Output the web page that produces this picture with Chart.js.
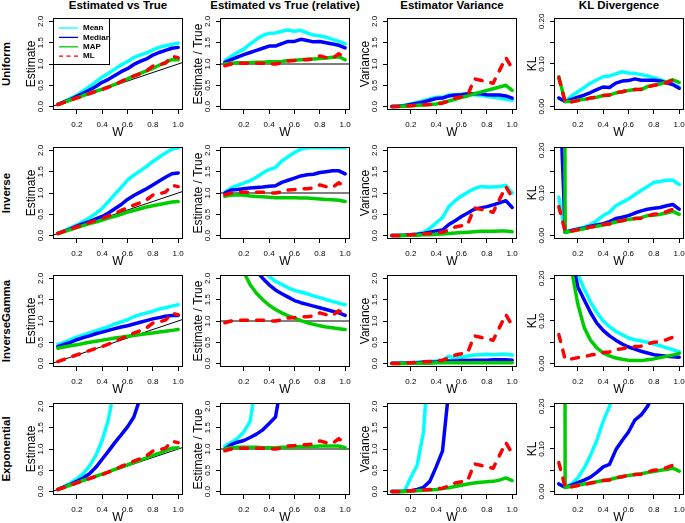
<!DOCTYPE html>
<html><head><meta charset="utf-8">
<script src="https://cdn.jsdelivr.net/npm/chart.js@4"></script>
<style>
body{margin:0;background:#fff;}
#wrap{position:relative;width:685px;height:523px;overflow:hidden;background:#fff;font-family:"Liberation Sans",Arial,sans-serif;color:#000;}
#wrap canvas{position:absolute;}
.ct{position:absolute;top:-1px;font-weight:bold;font-size:11.5px;line-height:12px;text-align:center;width:200px;white-space:nowrap;}
.rt{position:absolute;font-weight:bold;font-size:11.5px;line-height:12px;white-space:nowrap;transform:translate(-50%,-50%) rotate(-90deg);}
</style></head><body><div id="wrap"></div>
<script>
// ---------- data ----------
const W = [0.05,0.10,0.15,0.20,0.25,0.30,0.35,0.40,0.45,0.50,0.55,0.60,0.65,0.70,0.75,0.80,0.85,0.90,0.95,1.00];
const seriesNames = ['Mean','Median','MAP','ML'];
const colTitles = ['Estimated vs True','Estimated vs True (relative)','Estimator Variance','KL Divergence'];
const rowTitles = ['Uniform','Inverse','InverseGamma','Exponential'];
const yTitles = ['Estimate','Estimate / True','Variance','KL'];
const xTickValues = [0.2,0.4,0.6,0.8,1.0];
const xTickLabels = ['0.2','0.4','0.6','0.8','1.0'];
const yTickValues = [0,0.5,1,1.5,2];
const yTickLabels = ['0.0','0.5','1.0','1.5','2.0'];
const klTickValues = [0,0.05,0.10,0.15,0.20];
const klTickLabels = ['0.00','','0.10','','0.20'];

// reference lines (true value)
const refEstX = [0, 1.1], refEstY = [0, 1.1];
const refRelX = [0, 1.1], refRelY = [1, 1];

// ML (same in every row)
const mlEst = [0.048,0.10,0.153,0.204,0.255,0.306,0.357,0.40,0.455,0.515,0.59,0.65,0.715,0.77,0.84,0.95,0.98,1.02,1.18,1.15];
const mlRel = [0.96,1.0,1.02,1.02,1.02,1.02,1.02,1.0,1.0,1.03,1.07,1.08,1.1,1.1,1.12,1.19,1.15,1.13,1.24,1.15];
const mlVar = [0,0,0.01,0.02,0.03,0.04,0.05,0.06,0.08,0.13,0.2,0.23,0.27,0.65,0.62,0.58,0.55,0.85,1.15,0.9];
const mlKL  = [0.068,0.01,0.011,0.014,0.016,0.02,0.022,0.026,0.027,0.033,0.035,0.038,0.04,0.041,0.046,0.05,0.052,0.056,0.062,0.055];

// Uniform
const uniEstMean   = [0.05,0.12,0.19,0.27,0.37,0.47,0.58,0.69,0.78,0.88,0.98,1.06,1.15,1.21,1.26,1.33,1.39,1.43,1.46,1.49];
const uniEstMedian = [0.05,0.11,0.17,0.24,0.31,0.39,0.47,0.57,0.64,0.73,0.82,0.89,0.99,1.06,1.12,1.21,1.27,1.32,1.37,1.39];
const uniEstMAP    = [0.05,0.10,0.155,0.205,0.26,0.31,0.36,0.41,0.465,0.52,0.58,0.65,0.72,0.78,0.84,0.9,0.97,1.04,1.1,1.1];
const uniRelMean   = [1.08,1.18,1.27,1.35,1.47,1.58,1.67,1.72,1.73,1.77,1.80,1.77,1.79,1.73,1.68,1.66,1.63,1.58,1.53,1.48];
const uniRelMedian = [1.04,1.10,1.16,1.22,1.27,1.32,1.37,1.42,1.42,1.48,1.53,1.53,1.58,1.55,1.52,1.53,1.50,1.47,1.44,1.38];
const uniRelMAP    = [1.0,1.02,1.03,1.03,1.03,1.04,1.04,1.05,1.05,1.06,1.08,1.09,1.1,1.11,1.12,1.13,1.14,1.16,1.17,1.1];
const uniVarMean   = [0,0.01,0.03,0.06,0.1,0.14,0.18,0.22,0.22,0.27,0.28,0.29,0.3,0.28,0.26,0.24,0.22,0.2,0.17,0.15];
const uniVarMedian = [0,0.01,0.02,0.05,0.08,0.11,0.15,0.19,0.2,0.25,0.27,0.28,0.3,0.3,0.3,0.28,0.27,0.27,0.25,0.2];
const uniVarMAP    = [0,0,0.01,0.02,0.03,0.04,0.05,0.06,0.1,0.13,0.17,0.22,0.25,0.3,0.34,0.38,0.42,0.46,0.5,0.38];
const uniKLMean    = [0.02,0.012,0.025,0.035,0.045,0.055,0.063,0.07,0.072,0.077,0.082,0.079,0.078,0.075,0.072,0.068,0.063,0.058,0.052,0.045];
const uniKLMedian  = [0.02,0.012,0.017,0.022,0.027,0.033,0.04,0.046,0.045,0.055,0.06,0.061,0.065,0.062,0.062,0.062,0.06,0.056,0.052,0.043];
const uniKLMAP     = [0.07,0.012,0.012,0.015,0.017,0.02,0.022,0.026,0.027,0.032,0.035,0.038,0.04,0.04,0.047,0.05,0.053,0.058,0.063,0.057];

// Inverse
const invEstMean   = [0.05,0.11,0.18,0.25,0.33,0.42,0.52,0.64,0.8,0.97,1.13,1.3,1.42,1.52,1.62,1.74,1.84,1.94,2.03,2.06];
const invEstMedian = [0.05,0.105,0.16,0.22,0.28,0.33,0.39,0.45,0.53,0.63,0.73,0.85,0.94,1.02,1.1,1.19,1.28,1.37,1.45,1.47];
const invEstMAP    = [0.045,0.095,0.14,0.19,0.235,0.28,0.32,0.365,0.41,0.45,0.5,0.55,0.59,0.63,0.67,0.7,0.73,0.76,0.79,0.8];
const invRelMean   = [1.02,1.12,1.18,1.23,1.29,1.37,1.47,1.55,1.6,1.75,1.85,1.95,2.03,2.06,2.07,2.07,2.06,2.07,2.07,2.06];
const invRelMedian = [1.0,1.07,1.08,1.1,1.12,1.13,1.14,1.16,1.17,1.25,1.3,1.35,1.4,1.43,1.44,1.48,1.5,1.52,1.52,1.45];
const invRelMAP    = [0.92,0.95,0.96,0.95,0.93,0.92,0.91,0.9,0.89,0.89,0.89,0.89,0.88,0.88,0.87,0.86,0.85,0.84,0.83,0.8];
const invVarMean   = [0,0,0.01,0.02,0.04,0.08,0.17,0.3,0.42,0.68,0.82,0.93,1.02,1.1,1.15,1.14,1.14,1.15,1.18,1.0];
const invVarMedian = [0,0,0.01,0.02,0.03,0.05,0.08,0.11,0.13,0.26,0.35,0.45,0.53,0.62,0.65,0.68,0.72,0.77,0.82,0.66];
const invVarMAP    = [0,0,0,0.01,0.01,0.02,0.02,0.03,0.04,0.05,0.06,0.07,0.08,0.09,0.1,0.1,0.1,0.11,0.11,0.09];
const invKLMean    = [0.09,0.008,0.012,0.016,0.02,0.026,0.035,0.047,0.055,0.07,0.078,0.086,0.096,0.106,0.115,0.125,0.127,0.13,0.13,0.12];
const invKLMedian  = [0.4,0.008,0.012,0.015,0.018,0.022,0.025,0.028,0.033,0.04,0.043,0.047,0.053,0.058,0.062,0.064,0.066,0.07,0.073,0.062];
const invKLMAP     = [5,0.008,0.01,0.013,0.016,0.02,0.022,0.025,0.028,0.032,0.035,0.038,0.04,0.042,0.047,0.048,0.05,0.053,0.057,0.05];

// InverseGamma
const igEstMean    = [0.45,0.5,0.56,0.62,0.67,0.72,0.77,0.82,0.87,0.93,0.98,1.03,1.1,1.15,1.19,1.23,1.28,1.31,1.35,1.38];
const igEstMedian  = [0.4,0.45,0.5,0.56,0.61,0.65,0.7,0.74,0.78,0.82,0.86,0.89,0.93,0.97,1.01,1.05,1.08,1.11,1.13,1.13];
const igEstMAP     = [0.36,0.39,0.42,0.44,0.47,0.5,0.525,0.55,0.575,0.6,0.62,0.64,0.66,0.68,0.7,0.72,0.74,0.76,0.78,0.8];
const igRelMean    = [9,5,3.7,3.1,2.68,2.4,2.2,2.05,1.93,1.86,1.78,1.72,1.68,1.64,1.59,1.55,1.5,1.46,1.42,1.38];
const igRelMedian  = [8,4.5,3.33,2.8,2.44,2.17,2.0,1.85,1.73,1.64,1.56,1.48,1.43,1.39,1.35,1.31,1.27,1.23,1.19,1.13];
const igRelMAP     = [7,3.8,2.8,2.15,1.85,1.65,1.5,1.37,1.27,1.19,1.12,1.07,1.01,0.96,0.92,0.89,0.86,0.84,0.82,0.8];
const igVarMean    = [0.01,0.01,0.02,0.02,0.03,0.04,0.05,0.06,0.08,0.17,0.13,0.15,0.18,0.2,0.21,0.22,0.21,0.22,0.22,0.2];
const igVarMedian  = [0.01,0.01,0.01,0.02,0.02,0.03,0.03,0.04,0.05,0.06,0.06,0.07,0.07,0.08,0.08,0.08,0.09,0.09,0.09,0.08];
const igVarMAP     = [0,0,0,0.01,0.01,0.01,0.01,0.02,0.02,0.02,0.02,0.02,0.02,0.02,0.02,0.02,0.02,0.02,0.02,0.02];
const igKLMean     = [1.5,0.8,0.4,0.21,0.175,0.145,0.12,0.1,0.087,0.076,0.068,0.06,0.056,0.053,0.05,0.046,0.042,0.037,0.033,0.028];
const igKLMedian   = [1.2,0.6,0.25,0.18,0.15,0.12,0.095,0.078,0.065,0.055,0.046,0.039,0.034,0.029,0.025,0.021,0.019,0.017,0.016,0.015];
const igKLMAP      = [2,0.6,0.22,0.14,0.085,0.055,0.037,0.025,0.018,0.013,0.01,0.008,0.007,0.007,0.009,0.011,0.014,0.017,0.02,0.024];

// Exponential
const expEstMean   = [0.05,0.12,0.2,0.3,0.42,0.6,0.85,1.2,1.7,2.5,3.5,4.5,5.5,6.5,7.5,8.5,9.5,10.5,11.5,12.5];
const expEstMedian = [0.05,0.11,0.17,0.24,0.32,0.42,0.57,0.76,0.95,1.15,1.33,1.52,1.75,2.2,3,4,5,6,7,8];
const expEstMAP    = [0.05,0.1,0.155,0.21,0.26,0.31,0.36,0.41,0.465,0.52,0.57,0.63,0.68,0.74,0.79,0.85,0.9,0.96,1.02,1.03];
const expRelMean   = [1.07,1.15,1.25,1.4,1.65,2.6,3.5,4.5,5.5,6.5,7.5,8.5,9.5,10.5,11.5,12.5,13.5,14.5,15.5,16.5];
const expRelMedian = [1.0,1.1,1.16,1.2,1.27,1.35,1.45,1.6,1.75,2.6,3.5,4.5,5.5,6.5,7.5,8.5,9.5,10.5,11.5,12.5];
const expRelMAP    = [1.0,1.03,1.04,1.04,1.04,1.04,1.03,1.03,1.03,1.04,1.04,1.05,1.05,1.06,1.06,1.07,1.07,1.07,1.07,1.03];
const expVarMean   = [0,0,0.01,0.33,0.62,1.4,3.5,6,9,12,15,18,21,24,27,30,33,36,39,42];
const expVarMedian = [0,0,0.01,0.02,0.05,0.1,0.24,0.58,0.95,2.4,5,8,11,14,17,20,23,26,29,32];
const expVarMAP    = [0,0,0,0.01,0.02,0.03,0.04,0.05,0.07,0.09,0.12,0.15,0.18,0.2,0.22,0.23,0.24,0.27,0.32,0.26];
const expKLMean    = [0.018,0.01,0.018,0.032,0.055,0.085,0.12,0.165,0.2,0.26,0.33,0.4,0.47,0.54,0.61,0.68,0.75,0.82,0.89,0.96];
const expKLMedian  = [0.018,0.01,0.015,0.021,0.027,0.034,0.045,0.058,0.064,0.098,0.12,0.14,0.168,0.18,0.2,0.23,0.27,0.3,0.35,0.4];
const expKLMAP     = [10,0.01,0.012,0.015,0.018,0.02,0.023,0.026,0.028,0.032,0.035,0.038,0.04,0.042,0.045,0.047,0.05,0.052,0.055,0.048];

// ---------- layout / style ----------
const FF = '"Liberation Sans", Arial, sans-serif';
const colors = ['#00ffff','#0000ff','#00cd00','#ff0000'];
const colBoxLeft = [53,220,387,554];
const rowBoxTop = [18,147,275,403];
const BOXW = 130, BOXH = 92, YAXW = 36, PADT = 4, PADR = 8, XAXH = 32;

const panels = [
  [[uniEstMean,uniEstMedian,uniEstMAP,mlEst],[uniRelMean,uniRelMedian,uniRelMAP,mlRel],[uniVarMean,uniVarMedian,uniVarMAP,mlVar],[uniKLMean,uniKLMedian,uniKLMAP,mlKL]],
  [[invEstMean,invEstMedian,invEstMAP,mlEst],[invRelMean,invRelMedian,invRelMAP,mlRel],[invVarMean,invVarMedian,invVarMAP,mlVar],[invKLMean,invKLMedian,invKLMAP,mlKL]],
  [[igEstMean,igEstMedian,igEstMAP,mlEst],[igRelMean,igRelMedian,igRelMAP,mlRel],[igVarMean,igVarMedian,igVarMAP,mlVar],[igKLMean,igKLMedian,igKLMAP,mlKL]],
  [[expEstMean,expEstMedian,expEstMAP,mlEst],[expRelMean,expRelMedian,expRelMAP,mlRel],[expVarMean,expVarMedian,expVarMAP,mlVar],[expKLMean,expKLMedian,expKLMAP,mlKL]]
];

Chart.defaults.font.family = FF;
Chart.defaults.color = '#000';

const boxPlugin = {
  id: 'rbox',
  afterDraw(chart, args, opts) {
    const {ctx, chartArea: a} = chart;
    ctx.save();
    ctx.strokeStyle = '#000'; ctx.lineWidth = 1; ctx.setLineDash([]);
    ctx.strokeRect(a.left + 0.5, a.top + 0.5, a.right - a.left - 1, a.bottom - a.top - 1);
    const ys = chart.scales.y;
    ctx.fillStyle = '#000';
    ctx.font = '8px ' + FF;
    ctx.textAlign = 'center'; ctx.textBaseline = 'middle';
    ys.ticks.forEach((t, i) => {
      const s = opts.labels[i];
      if (!s) return;
      ctx.save();
      ctx.translate(a.left - 12.5, ys.getPixelForValue(t.value));
      ctx.rotate(-Math.PI / 2);
      ctx.fillText(s, 0, 0);
      ctx.restore();
    });
    ctx.restore();
  }
};

const legendPlugin = {
  id: 'rlegend',
  afterDraw(chart) {
    const {ctx, chartArea: a} = chart;
    const items = chart.data.datasets.filter(d => d.label);
    ctx.save();
    ctx.fillStyle = '#fff';
    ctx.fillRect(a.left + 0.5, a.top + 0.5, 56, 46);
    ctx.strokeStyle = '#000'; ctx.lineWidth = 1; ctx.setLineDash([]);
    ctx.strokeRect(a.left + 0.5, a.top + 0.5, 56, 46);
    ctx.font = 'bold 8px ' + FF;
    ctx.textAlign = 'left'; ctx.textBaseline = 'middle';
    items.forEach((d, i) => {
      const y = a.top + 10 + i * 9.4;
      ctx.strokeStyle = d.borderColor; ctx.lineWidth = 1.3;
      ctx.setLineDash(d.borderDash && d.borderDash.length ? [4, 3.5] : []);
      ctx.beginPath(); ctx.moveTo(a.left + 6, y); ctx.lineTo(a.left + 25, y); ctx.stroke();
      ctx.setLineDash([]);
      ctx.fillStyle = '#000';
      ctx.fillText(d.label, a.left + 30, y);
    });
    ctx.restore();
  }
};

const wrap = document.getElementById('wrap');

colTitles.forEach((t, c) => {
  const d = document.createElement('div');
  d.className = 'ct'; d.textContent = t;
  d.style.left = (colBoxLeft[c] + BOXW / 2 - 100) + 'px';
  wrap.appendChild(d);
});
rowTitles.forEach((t, r) => {
  const d = document.createElement('div');
  d.className = 'rt'; d.textContent = t;
  d.style.left = '6px';
  d.style.top = (rowBoxTop[r] + BOXH / 2) + 'px';
  wrap.appendChild(d);
});

const toPts = (xs, ys) => xs.map((x, i) => ({x: x, y: ys[i]}));

function makeChart(r, c) {
  const cv = document.createElement('canvas');
  const cw = YAXW + BOXW + PADR, ch = PADT + BOXH + XAXH;
  cv.width = cw; cv.height = ch;
  cv.style.width = cw + 'px'; cv.style.height = ch + 'px';
  cv.style.left = (colBoxLeft[c] - YAXW) + 'px';
  cv.style.top = (rowBoxTop[r] - PADT) + 'px';
  wrap.appendChild(cv);
  const arrs = panels[r][c];
  const isKL = c === 3;
  const ds = arrs.map((arr, k) => ({
    label: seriesNames[k],
    data: toPts(W, arr),
    borderColor: colors[k],
    backgroundColor: colors[k],
    borderWidth: 3.5,
    borderDash: k === 3 ? [7, 9] : [],
    borderCapStyle: 'round',
    borderJoinStyle: 'round',
    pointRadius: 0,
    tension: 0,
    fill: false,
    clip: 0,
    order: 3 - k
  }));
  if (c === 0 || c === 1) {
    ds.push({
      data: c === 0 ? toPts(refEstX, refEstY) : toPts(refRelX, refRelY),
      borderColor: '#000', borderWidth: 1, pointRadius: 0, tension: 0, fill: false, clip: 0, order: 4
    });
  }
  const tv = isKL ? klTickValues : yTickValues;
  const tl = isKL ? klTickLabels : yTickLabels;
  const plugins = [boxPlugin];
  if (r === 0 && c === 0) plugins.push(legendPlugin);
  new Chart(cv, {
    type: 'line',
    data: {datasets: ds},
    plugins: plugins,
    options: {
      responsive: false, animation: false, devicePixelRatio: 1, events: [],
      layout: {padding: {left: 0, top: PADT, right: PADR, bottom: 0}},
      plugins: {legend: {display: false}, tooltip: {enabled: false}, rbox: {labels: tl}},
      scales: {
        x: {
          type: 'linear', min: 0.012, max: 1.038,
          afterBuildTicks: s => { s.ticks = xTickValues.map(v => ({value: v})); },
          afterFit: s => { s.height = XAXH; },
          ticks: {autoSkip: false, minRotation: 0, maxRotation: 0, padding: 5.7, color: '#000',
                  font: {size: 8, family: FF}, callback: (v, i) => xTickLabels[i]},
          grid: {display: true, drawOnChartArea: false, drawTicks: true, tickLength: 4, color: '#000', lineWidth: 1},
          border: {display: false},
          title: {display: true, text: 'W', color: '#000', font: {size: 12, family: FF}, padding: {top: 0, bottom: 1.8}}
        },
        y: {
          type: 'linear', min: isKL ? -0.008 : -0.08, max: isKL ? 0.208 : 2.08,
          afterBuildTicks: s => { s.ticks = tv.map(v => ({value: v})); },
          afterFit: s => { s.width = YAXW; },
          ticks: {display: false},
          grid: {display: true, drawOnChartArea: false, drawTicks: true, tickLength: 4, color: '#000', lineWidth: 1},
          border: {display: false},
          title: {display: true, text: yTitles[c], color: '#000', font: {size: 12, family: FF}, padding: {top: 7, bottom: 0}}
        }
      }
    }
  });
}

for (let r = 0; r < 4; r++) for (let c = 0; c < 4; c++) makeChart(r, c);
</script>
</body></html>
